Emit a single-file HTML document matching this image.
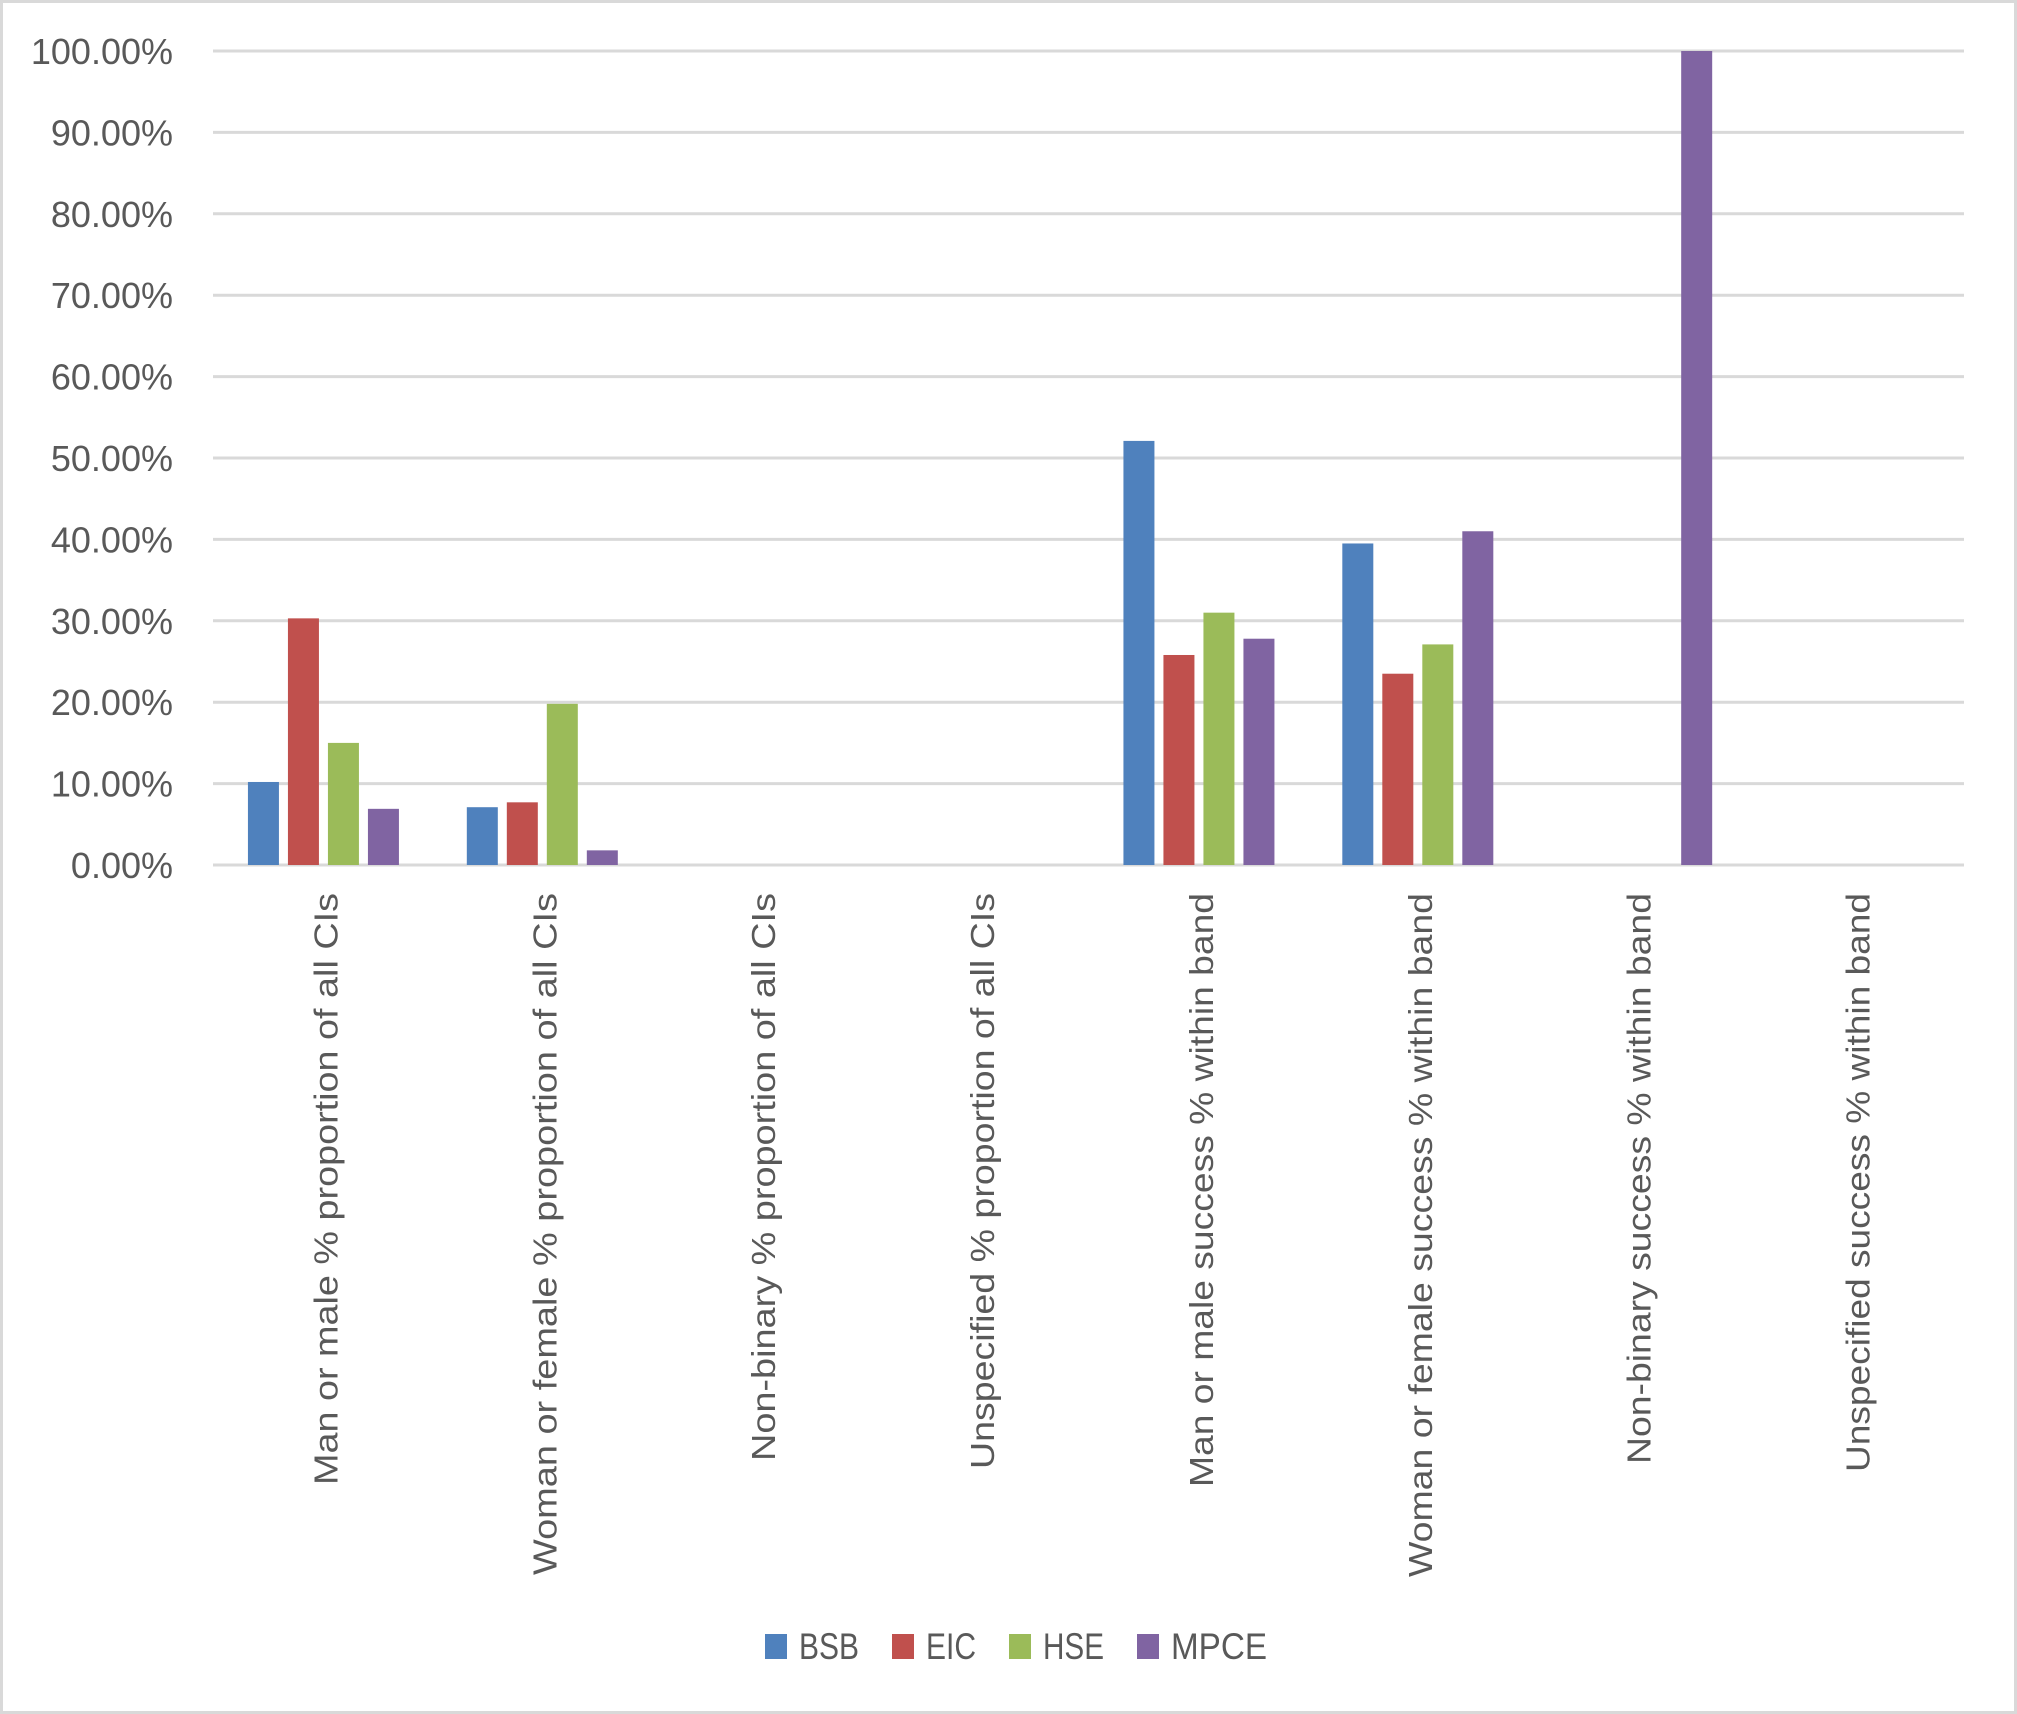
<!DOCTYPE html>
<html><head><meta charset="utf-8"><style>
html,body{margin:0;padding:0;background:#fff;}
svg{display:block;font-family:"Liberation Sans",sans-serif;}
</style></head><body>
<svg id="chart" width="2017" height="1714" viewBox="0 0 2017 1714">
<rect x="1.5" y="1.5" width="2014" height="1711" fill="#fff" stroke="#d9d9d9" stroke-width="3"/>
<g id="grid"></g><g id="bars"></g><g id="ylabels"></g><g id="xlabels"></g>
<g id="legend"></g>
</svg>
<script>
const categories = ["Man or male % proportion of all CIs","Woman or female % proportion of all CIs","Non-binary % proportion of all CIs","Unspecified % proportion of all CIs","Man or male success % within band","Woman or female success % within band","Non-binary success % within band","Unspecified success % within band"];
const seriesNames = ["BSB","EIC","HSE","MPCE"];
const bsb = [10.2, 7.1, 0, 0, 52.1, 39.5, 0, 0];
const eic = [30.3, 7.7, 0, 0, 25.8, 23.5, 0, 0];
const hse = [15.0, 19.8, 0, 0, 31.0, 27.1, 0, 0];
const mpce = [6.9, 1.8, 0, 0, 27.8, 41.0, 100, 0];
const yTicks = [0,10,20,30,40,50,60,70,80,90,100];
const labelLengths = [592, 682, 568, 576, 594, 684, 571, 579];

const colors = ["#4f81bd","#c0504d","#9bbb59","#8064a2"];
const series = [bsb, eic, hse, mpce];
const NS = "http://www.w3.org/2000/svg";
const x0 = 213, x1 = 1964, yZero = 865, yTop = 51;
const catW = (x1 - x0) / categories.length;
function y(v){ return yZero - (yZero - yTop) * v / 100; }
function mk(tag, attrs, parent){ const e = document.createElementNS(NS, tag); for (const k in attrs) e.setAttribute(k, attrs[k]); parent.appendChild(e); return e; }

const grid = document.getElementById('grid');
const yl = document.getElementById('ylabels');
yTicks.forEach(t => {
  const l = mk('line', {x1:x0, x2:x1, y1:y(t), y2:y(t), stroke:'#d9d9d9', 'stroke-width':3}, grid);
  
  
  const tx = mk('text', {x:173, y:y(t)+13, 'text-anchor':'end', 'font-size':36, fill:'#595959'}, yl);
  tx.textContent = t.toFixed(2) + '%';
  
  
});

const bars = document.getElementById('bars');
const barW = 31, step = 40;
categories.forEach((c, i) => {
  const cx = x0 + catW * (i + 0.5);
  series.forEach((s, j) => {
    const v = s[i];
    if (v <= 0) return;
    const bx = cx - 2 * step + j * step + (step - barW) / 2 + 1;
    const r = mk('rect', {x:bx, y:y(v), width:barW, height:yZero - y(v), fill:colors[j]}, bars);
    
    
  });
  const xl = document.getElementById('xlabels');
  const tx = mk('text', {transform:'translate(' + (cx + 15) + ',893) rotate(-90)', 'text-anchor':'end', 'font-size':33, fill:'#595959', textLength:labelLengths[i], lengthAdjust:'spacingAndGlyphs'}, xl);
  tx.textContent = c;
  
  
});

const lg = document.getElementById('legend');
const lx = [765, 892, 1009, 1137];
const lw = [60, 50, 61, 96];
seriesNames.forEach((n, j) => {
  const r = mk('rect', {x:lx[j], y:1634, width:22, height:25, fill:colors[j]}, lg);
  
  
  const t = mk('text', {x:lx[j] + 34, y:1659, 'font-size':37, fill:'#595959', textLength:lw[j], lengthAdjust:'spacingAndGlyphs'}, lg);
  t.textContent = n;
  
  
});
</script>
</body></html>
